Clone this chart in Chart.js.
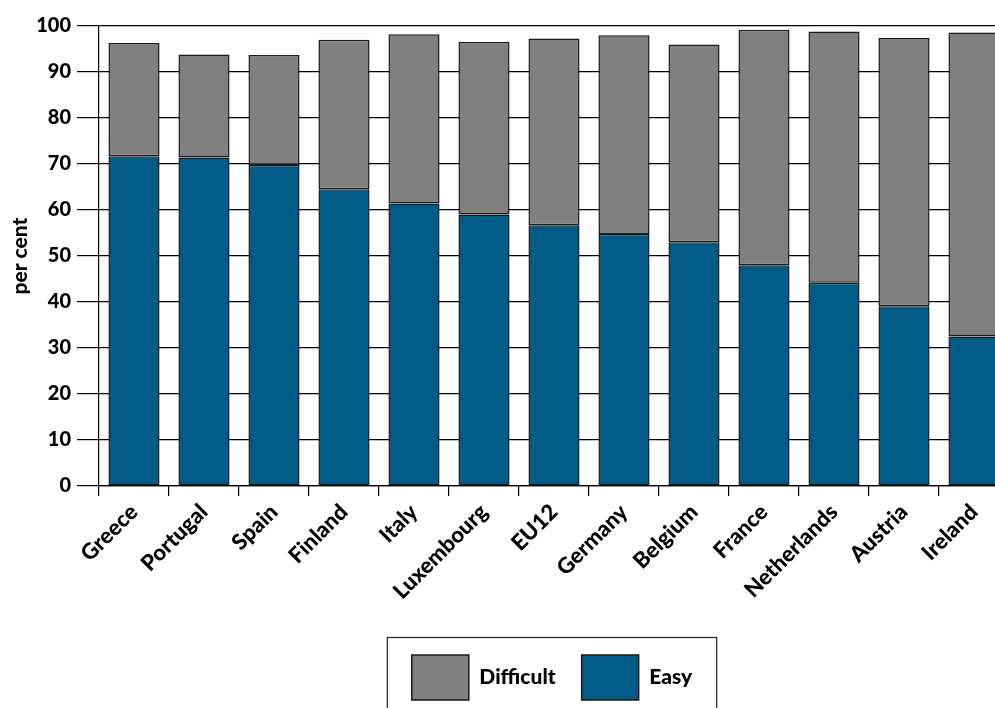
<!DOCTYPE html>
<html>
<head>
<meta charset="utf-8">
<script src="https://cdn.jsdelivr.net/npm/chart.js@4/dist/chart.umd.min.js"></script>
<style>
  html, body { margin: 0; padding: 0; overflow: hidden; background: #fff; width: 995px; height: 708px; }
  #wrap { position: absolute; left: 0; top: 0; width: 1103px; height: 720px; }
</style>
</head>
<body>
<div id="wrap"><canvas id="chart" width="1103" height="720"></canvas></div>
<script>
// Share of respondents finding it easy / difficult, per country (per cent)
const categories = ['Greece', 'Portugal', 'Spain', 'Finland', 'Italy', 'Luxembourg', 'EU12',
                    'Germany', 'Belgium', 'France', 'Netherlands', 'Austria', 'Ireland'];
const easyValues      = [71.7, 71.4, 69.8, 64.5, 61.4, 59.0, 56.7, 54.8, 53.0, 48.0, 44.2, 39.1, 32.5];
const difficultValues = [24.6, 22.4, 23.9, 32.5, 36.8, 37.5, 40.6, 43.2, 43.0, 51.2, 54.6, 58.3, 66.1];
const yMin = 0, yMax = 100, yStep = 10;

const EASY_COLOR = '#005b87';
const DIFFICULT_COLOR = '#808080';
const EDGE = '#1a1a1a';
const FONT = 'Lato, "Open Sans", sans-serif';
const HEAVY = 900;

// Centre the legend under the plot area rather than the whole canvas
const legendShift = {
  id: 'legendShift',
  afterLayout(chart) {
    const lg = chart.legend;
    if (!lg) return;
    const target = (chart.chartArea.left + chart.chartArea.right) / 2;
    const current = (lg.left + lg.right) / 2;
    const dx = target - current - 2;
    lg.left += dx;
    lg.right += dx;
  }
};

// Frame drawn around the legend row
const legendFrame = {
  id: 'legendFrame',
  afterDraw(chart) {
    const boxes = chart.legend && chart.legend.legendHitBoxes;
    if (!boxes || !boxes.length) return;
    const left = Math.min(...boxes.map(b => b.left)) - 25;
    const right = Math.max(...boxes.map(b => b.left + b.width)) + 24;
    const top = Math.min(...boxes.map(b => b.top)) - 18;
    const bottom = Math.max(...boxes.map(b => b.top + b.height)) + 18;
    const ctx = chart.ctx;
    ctx.save();
    ctx.strokeStyle = '#222';
    ctx.lineWidth = 1.2;
    ctx.strokeRect(left + 0.5, top + 0.5, right - left, bottom - top);
    ctx.restore();
  }
};

Chart.defaults.font.family = FONT;
Chart.defaults.color = '#000';

new Chart(document.getElementById('chart'), {
  type: 'bar',
  data: {
    labels: categories,
    datasets: [
      { label: 'Easy', data: easyValues, backgroundColor: EASY_COLOR,
        borderColor: EDGE, borderWidth: 1.5, borderSkipped: false },
      { label: 'Difficult', data: difficultValues, backgroundColor: DIFFICULT_COLOR,
        borderColor: EDGE, borderWidth: 1.5, borderSkipped: false }
    ]
  },
  options: {
    responsive: false,
    animation: false,
    layout: { padding: { left: 0, top: 26, right: 94, bottom: 10 } },
    datasets: { bar: { barPercentage: 0.73, categoryPercentage: 1 } },
    scales: {
      x: {
        stacked: true,
        grid: { offset: true, drawOnChartArea: false, drawTicks: true, tickLength: 10,
                color: '#000', lineWidth: 1.2 },
        border: { color: '#000', width: 1.2 },
        ticks: { autoSkip: false, maxRotation: 45, minRotation: 45, padding: 3,
                 color: '#000', font: { family: FONT, weight: HEAVY, size: 22 } },
        afterFit(scale) { scale.height = 143; }
      },
      y: {
        stacked: true,
        min: yMin, max: yMax,
        grid: { color: '#000', lineWidth: 1.2, tickLength: 22 },
        border: { color: '#000', width: 1.2 },
        ticks: { stepSize: yStep, padding: 6, color: '#000',
                 font: { family: FONT, weight: HEAVY, size: 20 } },
        title: { display: true, text: 'per cent', color: '#000',
                 padding: { top: 8, bottom: 0 },
                 font: { family: FONT, weight: HEAVY, size: 21 } },
        afterFit(scale) { scale.width = 99; }
      }
    },
    plugins: {
      legend: {
        position: 'bottom',
        reverse: true,
        labels: { boxWidth: 57, boxHeight: 45, padding: 26, color: '#000',
                  font: { family: FONT, weight: HEAVY, size: 21 } }
      },
      tooltip: { enabled: false }
    }
  },
  plugins: [legendShift, legendFrame]
});
</script>
</body>
</html>
